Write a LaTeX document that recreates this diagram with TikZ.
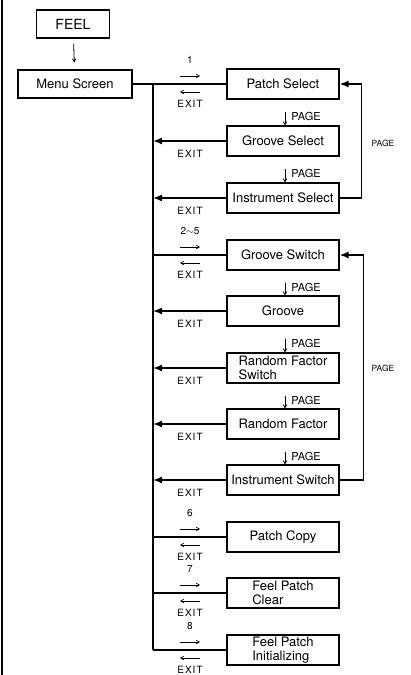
\documentclass[tikz,border=0pt]{standalone}
\usepackage{fontspec}
\setmainfont{TeX Gyre Heros}
\newfontfamily\exitfont[LetterSpace=10]{TeX Gyre Heros}
\usetikzlibrary{arrows.meta}

\begin{document}
\begin{tikzpicture}[x=1pt,y=-1pt]
\tikzstyle{every node}=[inner sep=1pt]
\tikzstyle{box}=[draw,line width=1.1pt,minimum width=112pt,minimum height=30pt,font=\fontsize{13}{14}\selectfont,align=left]
\tikzstyle{bus}=[line width=1.6pt]
\tikzstyle{ret}=[line width=1.6pt,-{Latex[length=9pt,width=7pt]}]
\tikzstyle{key}=[line width=0.7pt,-{Straight Barb[length=3pt,width=3.5pt]}]
\tikzstyle{exit}=[font=\exitfont\fontsize{10}{11}\selectfont]
\tikzstyle{page}=[font=\fontsize{11}{12}\selectfont,right,xshift=5pt,yshift=-4pt]
\tikzstyle{loop}=[font=\fontsize{8.5}{10}\selectfont]
\useasboundingbox (0,0) rectangle (410,675);
\draw[line width=1.6pt] (2,0) -- (2,675);
\draw (73,24) node (feel) [box,minimum width=73pt,minimum height=28pt,font=\fontsize{14}{15}\selectfont] {FEEL};
\draw (75,84) node (menu) [box,minimum width=114pt,minimum height=28pt] {Menu Screen};
\draw (283,84) node (ps) [box] {Patch Select};
\draw (283,141) node (gs) [box] {Groove Select};
\draw (283,198) node (is) [box] {Instrument Select};
\draw (283,255) node (gsw) [box] {Groove Switch};
\draw (283,311) node (gr) [box] {Groove};
\draw (283,368) node (rfs) [box] {Random Factor\\Switch};
\draw (283,424) node (rf) [box] {Random Factor};
\draw (283,480) node (isw) [box] {Instrument Switch};
\draw (283,537) node (pc) [box] {Patch Copy};
\draw (283,593) node (fpc) [box] {Feel Patch\\Clear};
\draw (283,650) node (fpi) [box] {Feel Patch\\Initializing};
\coordinate (top) at (153,84);
\coordinate (bot) at (153,650);
\draw[key,line width=0.8pt,shorten <=5pt,shorten >=7pt] (feel) -- (menu);
\draw[bus] (menu) -- (ps);
\draw[bus] (top) -- (bot);
\foreach \n in {gs,is,gr,rfs,rf,isw}{
  \draw[ret] (\n) -- (\n -| top);
  \path (\n -| top) ++(37,13) node[exit] {EXIT};
}
\foreach \n in {gsw,pc,fpc,fpi}
  \draw[bus] (\n -| top) -- (\n);
\foreach \n/\k in {ps/1,gsw/2$\sim$5,pc/6,fpc/7,fpi/8}{
  \path (\n -| top) ++(37,-24) node {\fontsize{10}{11}\selectfont\k};
  \draw[key] (\n -| top) ++(27,-8) -- ++(20,0);
  \draw[key] (\n -| top) ++(47,8) -- ++(-20,0);
  \path (\n -| top) ++(37,19.5) node[exit] {EXIT};
}
\foreach \a/\b in {ps/gs,gs/is,gsw/gr,gr/rfs,rfs/rf,rf/isw}
  \draw[key,line width=0.8pt,shorten <=12pt] ([xshift=2pt]\a.south) -- node[page] {PAGE} ([xshift=2pt]\b.north);
\draw[ret] (is.east) -- ++(22,0) |- (ps.east);
\draw[ret] (isw.east) -- ++(24,0) |- (gsw.east);
\draw (383,143) node (pg1) [loop] {PAGE};
\draw (383,368) node (pg2) [loop] {PAGE};
\end{tikzpicture}
\end{document}
